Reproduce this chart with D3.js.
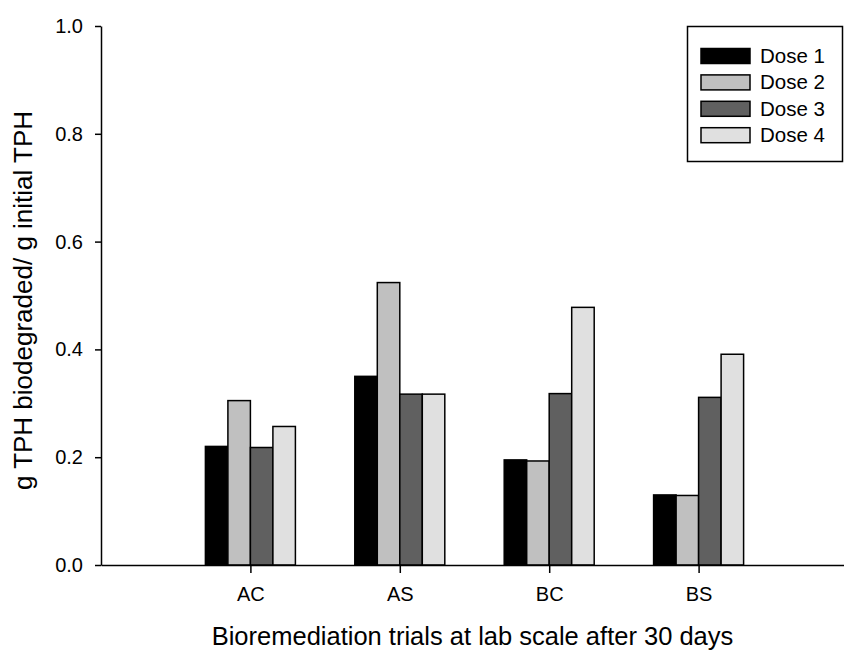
<!DOCTYPE html>
<html>
<head>
<meta charset="utf-8">
<script src="https://cdn.jsdelivr.net/npm/d3@7"></script>
<style>
  body { margin: 0; background: #fff; }
  svg { display: block; font-family: "Liberation Sans", Arial, sans-serif; }
</style>
</head>
<body>
<div id="chart"></div>
<script>
// chart values
const categories = ["AC", "AS", "BC", "BS"];
const doseNames = ["Dose 1", "Dose 2", "Dose 3", "Dose 4"];
const dose1 = [0.22, 0.35, 0.195, 0.13];
const dose2 = [0.305, 0.524, 0.193, 0.129];
const dose3 = [0.218, 0.317, 0.318, 0.311];
const dose4 = [0.257, 0.317, 0.478, 0.391];
const yTicks = [0, 0.2, 0.4, 0.6, 0.8, 1.0];

const series = [dose1, dose2, dose3, dose4];
const colors = ["#000000", "#c0c0c0", "#606060", "#e0e0e0"];

const width = 844, height = 651;
const margin = { top: 26, left: 101, bottom: 86 };
const plotBottom = height - margin.bottom; // 565

const svg = d3.select("#chart")
  .append("svg")
  .attr("width", width)
  .attr("height", height);

// Scales
const x = d3.scalePoint()
  .domain(categories)
  .range([margin.left, 848])
  .padding(1);

const inner = d3.scaleBand()
  .domain(doseNames)
  .range([-45, 45]);

const y = d3.scaleLinear()
  .domain([0, 1])
  .range([plotBottom, margin.top]);

// Bars
const rows = [];
categories.forEach((c, i) => {
  series.forEach((s, j) => {
    rows.push({ cat: c, dose: doseNames[j], value: s[i], color: colors[j] });
  });
});

svg.append("g")
  .selectAll("rect")
  .data(rows)
  .enter()
  .append("rect")
  .attr("x", (d) => x(d.cat) + inner(d.dose))
  .attr("y", (d) => y(d.value))
  .attr("width", inner.bandwidth())
  .attr("height", (d) => y(0) - y(d.value))
  .attr("fill", (d) => d.color)
  .attr("stroke", "#000")
  .attr("stroke-width", 1.5);

// Axes
const xAxis = svg.append("g")
  .attr("transform", `translate(0,${plotBottom})`)
  .call(d3.axisBottom(x).tickSizeInner(8).tickSizeOuter(0).tickPadding(14));

const yAxis = svg.append("g")
  .attr("transform", `translate(${margin.left},0)`)
  .call(d3.axisLeft(y).tickValues(yTicks).tickFormat(d3.format(".1f"))
    .tickSizeInner(6).tickSizeOuter(0).tickPadding(12));

[xAxis, yAxis].forEach((g) => {
  g.selectAll("path, line").attr("stroke", "#000").attr("stroke-width", 1.5);
  g.selectAll("text").attr("fill", "#000").style("font-size", "20px")
    .style("font-family", "'Liberation Sans', Arial, sans-serif");
});

// Axis titles
svg.append("text")
  .attr("x", (margin.left + 844) / 2)
  .attr("y", 645)
  .attr("text-anchor", "middle")
  .style("font-size", "25.5px")
  .text("Bioremediation trials at lab scale after 30 days");

svg.append("text")
  .attr("transform", `translate(32,${(margin.top + plotBottom) / 2 + 5}) rotate(-90)`)
  .attr("text-anchor", "middle")
  .style("font-size", "26px")
  .text("g TPH biodegraded/ g initial TPH");

// Legend
const legend = svg.append("g");

legend.append("rect")
  .attr("x", 687.5)
  .attr("y", 26.5)
  .attr("width", 155)
  .attr("height", 135)
  .attr("fill", "#fff")
  .attr("stroke", "#000")
  .attr("stroke-width", 1.5);

doseNames.forEach((name, i) => {
  const cy = 56 + i * 26.4;
  legend.append("rect")
    .attr("x", 701)
    .attr("y", cy - 7.5)
    .attr("width", 49)
    .attr("height", 15)
    .attr("fill", colors[i])
    .attr("stroke", "#000")
    .attr("stroke-width", 1.5);
  legend.append("text")
    .attr("x", 760)
    .attr("y", cy + 7)
    .style("font-size", "20.5px")
    .text(name);
});
</script>
</body>
</html>
